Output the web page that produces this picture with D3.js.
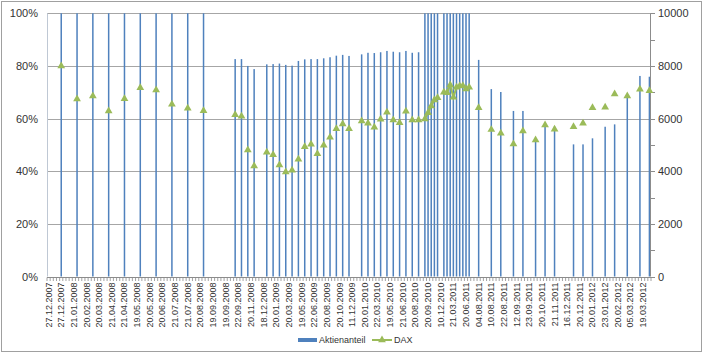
<!DOCTYPE html>
<html lang="de">
<head>
    <meta charset="UTF-8">
    <title>Aktienanteil und DAX</title>
    <script src="https://d3js.org/d3.v7.min.js"></script>
    <style>
        body {
            margin: 0;
            background: #fff;
            font-family: "Liberation Sans", Arial, sans-serif;
        }
        .grid line { stroke: #a6a6a6; stroke-width: 1; }
        .axis-label { font-size: 11px; fill: #333; }
        .x-label { font-size: 9px; fill: #333; }
        .legend text { font-size: 9px; fill: #333; }
    </style>
</head>
<body>
<svg width="703" height="354"></svg>

<script>
    // Kategorie-Achse: jede 4. Kategorie beschriftet
    const tickLabels = [
        "27.12.2007", "27.12.2007", "21.01.2008", "20.02.2008", "20.03.2008", "21.04.2008",
        "21.04.2008", "19.05.2008", "20.05.2008", "20.06.2008", "21.07.2008", "21.07.2008",
        "20.08.2008", "19.09.2008", "19.09.2008", "22.09.2008", "20.11.2008", "18.12.2008",
        "20.01.2009", "20.03.2009", "19.05.2009", "22.06.2009", "20.08.2009", "20.10.2009",
        "11.12.2009", "20.01.2010", "22.03.2010", "19.05.2010", "21.06.2010", "20.08.2010",
        "20.09.2010", "10.12.2010", "21.03.2011", "20.06.2011", "04.08.2011", "10.08.2011",
        "22.08.2011", "12.09.2011", "23.09.2011", "20.10.2011", "21.11.2011", "16.12.2011",
        "20.12.2011", "20.01.2012", "23.01.2012", "20.02.2012", "05.03.2012", "19.03.2012"
    ];
    const categoryCount = 191;
    const labelEvery = 4;

    // Kategorien (Index) mit Werten
    const slots = [
        4, 9, 14, 19, 24, 29, 34, 39, 44, 49,
        59, 61, 63, 65,
        69, 71, 73, 75, 77, 79, 81, 83, 85, 87, 89, 91, 93, 95,
        99, 101, 103, 105, 107, 109, 111, 113, 115, 117,
        119, 120, 121, 122, 123,
        125, 126, 127, 128, 129, 130, 131, 132, 133,
        136, 140, 143, 147, 150, 154, 157, 160, 166, 169, 172, 176, 179, 183, 187, 190
    ];
    // Aktienanteil (linke Achse)
    const aktienanteil = [
        1, 1, 1, 1, 1, 1, 1, 1, 1, 1,
        0.826, 0.826, 0.80, 0.788,
        0.806, 0.807, 0.809, 0.804, 0.801, 0.819, 0.825, 0.826, 0.826, 0.829, 0.833, 0.839, 0.842, 0.838,
        0.844, 0.850, 0.849, 0.852, 0.857, 0.854, 0.852, 0.857, 0.850, 0.852,
        1, 1, 1, 1, 1,
        1, 1, 1, 1, 1, 1, 1, 1, 1,
        0.823, 0.712, 0.701, 0.629, 0.629, 0.52, 0.57, 0.57, 0.502, 0.502, 0.525, 0.569, 0.578, 0.693, 0.762, 0.759
    ];
    // DAX (rechte Achse)
    const dax = [
        8000, 6744, 6858, 6288, 6755, 7173, 7086, 6543, 6391, 6300,
        6148, 6086, 4806, 4198,
        4719, 4628, 4236, 3970, 4035, 4453, 4932, 5023, 4666, 4985, 5289, 5616, 5794, 5616,
        5908, 5820, 5669, 5973, 6239, 5946, 5843, 6277, 5950, 5946,
        5984, 6223, 6478, 6706, 6793,
        6998, 6983, 7275, 6808, 7187, 7238, 7249, 7124, 7187,
        6414, 5580, 5441, 5034, 5528, 5186, 5756, 5593, 5692, 5820, 6414, 6427, 6934, 6858, 7112, 7059
    ];
    const leftTicks = [0, 0.2, 0.4, 0.6, 0.8, 1];
    const rightTicks = [0, 2000, 4000, 6000, 8000, 10000];

    const svg = d3.select("svg");
    const plotLeft = 47, plotRight = 651, plotTop = 13.3, plotBottom = 276.5;

    // Skalen
    const x = d3.scaleBand().domain(d3.range(categoryCount)).range([plotLeft, plotRight]).padding(0);
    const yL = d3.scaleLinear().domain([0, 1]).range([plotBottom, plotTop]);
    const yR = d3.scaleLinear().domain([0, 10000]).range([plotBottom, plotTop]);
    const cx = i => x(i) + x.bandwidth() / 2;

    // Rahmen
    svg.append("rect")
        .attr("x", 1.5).attr("y", 1.5).attr("width", 700).attr("height", 350)
        .attr("fill", "#fff").attr("stroke", "#a0a0a0");

    // Gitterlinien
    svg.append("g").attr("class", "grid")
        .selectAll("line")
        .data(leftTicks.slice(1))
        .join("line")
        .attr("x1", plotLeft).attr("x2", plotRight)
        .attr("y1", d => Math.round(yL(d)) + 0.5)
        .attr("y2", d => Math.round(yL(d)) + 0.5);

    // Balken
    svg.append("g")
        .selectAll("rect")
        .data(slots.map((s, i) => ({ s, v: Math.min(aktienanteil[i], 1) })))
        .join("rect")
        .attr("x", d => cx(d.s) - 0.75)
        .attr("width", 1.5)
        .attr("y", d => yL(d.v))
        .attr("height", d => plotBottom - yL(d.v))
        .attr("fill", "#4f81bd");

    // Achsenlinien
    svg.append("line")
        .attr("x1", plotLeft + 0.5).attr("x2", plotLeft + 0.5).attr("y1", plotTop).attr("y2", plotBottom)
        .attr("stroke", "#bfc8d4");
    svg.append("line")
        .attr("x1", plotRight - 0.5).attr("x2", plotRight - 0.5).attr("y1", plotTop).attr("y2", plotBottom)
        .attr("stroke", "#8c8c8c");
    svg.append("line")
        .attr("x1", plotLeft).attr("x2", plotRight)
        .attr("y1", Math.round(plotBottom) + 0.5).attr("y2", Math.round(plotBottom) + 0.5)
        .attr("stroke", "#8c8c8c");

    // Teilstriche x-Achse (zwischen den Kategorien)
    svg.append("g")
        .selectAll("line")
        .data(d3.range(categoryCount + 1))
        .join("line")
        .attr("x1", i => plotLeft + i * x.step())
        .attr("x2", i => plotLeft + i * x.step())
        .attr("y1", Math.round(plotBottom) + 0.5)
        .attr("y2", Math.round(plotBottom) + 4)
        .attr("stroke", "#8c8c8c")
        .attr("stroke-width", 0.8);

    // Teilstriche rechte Achse (alle 1000)
    svg.append("g")
        .selectAll("line")
        .data(d3.range(0, 10001, 1000))
        .join("line")
        .attr("x1", plotRight - 0.5).attr("x2", plotRight + 4)
        .attr("y1", d => Math.round(yR(d)) + 0.5)
        .attr("y2", d => Math.round(yR(d)) + 0.5)
        .attr("stroke", "#8c8c8c");

    // Beschriftung linke Achse
    svg.append("g")
        .selectAll("text")
        .data(leftTicks)
        .join("text")
        .attr("class", "axis-label")
        .attr("x", 38)
        .attr("y", d => yL(d) + 4)
        .attr("text-anchor", "end")
        .text(d => d3.format(".0%")(d));

    // Beschriftung rechte Achse
    svg.append("g")
        .selectAll("text")
        .data(rightTicks)
        .join("text")
        .attr("class", "axis-label")
        .attr("x", 658)
        .attr("y", d => yR(d) + 4)
        .attr("text-anchor", "start")
        .text(d => d);

    // Beschriftung x-Achse (senkrecht)
    svg.append("g")
        .selectAll("text")
        .data(tickLabels)
        .join("text")
        .attr("class", "x-label")
        .attr("text-anchor", "end")
        .attr("transform", (d, i) => `translate(${cx(i * labelEvery) + 3},${plotBottom + 6}) rotate(-90)`)
        .text(d => d);

    // DAX-Linie (Lücken bei leeren Kategorien)
    const daxByCat = d3.range(categoryCount).map(() => null);
    slots.forEach((s, i) => daxByCat[s] = dax[i]);

    const line = d3.line()
        .defined(d => d != null)
        .x((d, i) => cx(i))
        .y(d => yR(d));

    svg.append("path")
        .attr("d", line(daxByCat))
        .attr("fill", "none")
        .attr("stroke", "#9bbb59")
        .attr("stroke-width", 2);

    const tri = d3.symbol(d3.symbolTriangle, 26);
    svg.append("g")
        .selectAll("path")
        .data(slots.map((s, i) => ({ s, v: dax[i] })))
        .join("path")
        .attr("d", tri)
        .attr("transform", d => `translate(${cx(d.s)},${yR(d.v)})`)
        .attr("fill", "#9bbb59");

    // Legende
    const legend = svg.append("g").attr("class", "legend");
    legend.append("rect")
        .attr("x", 298).attr("y", 338).attr("width", 19).attr("height", 4)
        .attr("fill", "#4f81bd");
    legend.append("text").attr("x", 319).attr("y", 343).text("Aktienanteil");
    legend.append("line")
        .attr("x1", 372).attr("x2", 392).attr("y1", 340).attr("y2", 340)
        .attr("stroke", "#9bbb59").attr("stroke-width", 2);
    legend.append("path")
        .attr("d", tri)
        .attr("transform", "translate(382,340)")
        .attr("fill", "#9bbb59");
    legend.append("text").attr("x", 394).attr("y", 343).text("DAX");
</script>
</body>
</html>
